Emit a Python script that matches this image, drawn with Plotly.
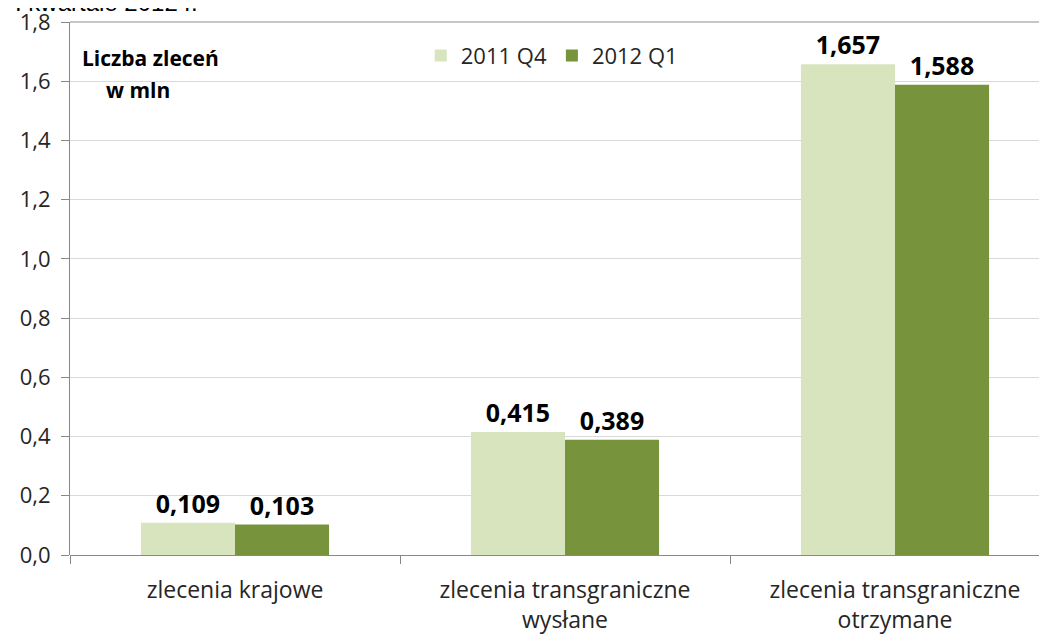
import plotly.graph_objects as go

categories = ["zlecenia krajowe", "zlecenia transgraniczne<br>wysłane", "zlecenia transgraniczne<br>otrzymane"]
series_names = ["2011 Q4", "2012 Q1"]
values_2011q4 = [0.109, 0.415, 1.657]
values_2012q1 = [0.103, 0.389, 1.588]
ytick_vals = [0, 0.2, 0.4, 0.6, 0.8, 1.0, 1.2, 1.4, 1.6, 1.8]
ytick_text = ["0,0", "0,2", "0,4", "0,6", "0,8", "1,0", "1,2", "1,4", "1,6", "1,8"]

colors = ["#d7e4bd", "#77933c"]
FONT = "Open Sans"
TXT = "#262626"

def fmt(v):
    return f"{v:.3f}".replace(".", ",")

xpos = list(range(len(categories)))
fig = go.Figure()
for name, vals, col in zip(series_names, [values_2011q4, values_2012q1], colors):
    fig.add_trace(go.Bar(
        x=xpos, y=vals, name=name, marker=dict(color=col, line=dict(width=0)),
        text=[fmt(v) for v in vals], textposition="outside", cliponaxis=False,
        textfont=dict(family=FONT, size=25, color="#000000", weight="bold"),
    ))

fig.update_layout(
    width=1047, height=634,
    margin=dict(l=62, r=8, t=14, b=87),
    paper_bgcolor="white", plot_bgcolor="white",
    barmode="group", bargap=0.43, bargroupgap=0,
    font=dict(family=FONT, color=TXT),
    showlegend=True,
    legend=dict(orientation="h", x=0.359, y=0.937, xanchor="left", yanchor="middle",
                font=dict(family=FONT, size=22, color=TXT),
                bgcolor="rgba(0,0,0,0)", itemwidth=30, traceorder="normal"),
    xaxis=dict(
        range=[-0.5, 2.4606], tickvals=xpos, ticktext=categories,
        ticks="", showgrid=False, zeroline=False, showline=False, automargin=False,
        ticklabelstandoff=19, ticklabeloverflow="allow",
        tickfont=dict(family=FONT, size=23, color=TXT),
        minor=dict(tickvals=[-0.5, 0.5, 1.5], ticks="outside", ticklen=8,
                   tickcolor="#888888", showgrid=False),
    ),
    yaxis=dict(
        range=[0, 1.8], tickvals=ytick_vals, ticktext=ytick_text, automargin=False,
        ticks="outside", ticklen=8, tickcolor="#888888", ticklabelstandoff=6,
        ticklabeloverflow="allow",
        showline=True, linecolor="#888888", linewidth=1,
        showgrid=True, gridcolor="#d9d9d9", gridwidth=1,
        zeroline=True, zerolinecolor="#888888", zerolinewidth=1,
        tickfont=dict(family=FONT, size=22, color=TXT),
    ),
    shapes=[dict(type="line", xref="paper", yref="paper", x0=0, x1=1, y0=1, y1=1,
                 line=dict(color="#b3b3b3", width=1.5), layer="below")],
    annotations=[
        dict(text="<b>Liczba zleceń</b>", xref="paper", yref="paper", x=0.010, y=0.932,
             xanchor="left", yanchor="middle", showarrow=False,
             font=dict(family=FONT, size=21, color="#000000")),
        dict(text="<b>w mln</b>", xref="paper", yref="paper", x=0.035, y=0.872,
             xanchor="left", yanchor="middle", showarrow=False,
             font=dict(family=FONT, size=21, color="#000000")),
        dict(text="I kwartale 2012 r.", xref="paper", yref="paper", x=0.133, y=1.0075,
             xanchor="right", yanchor="bottom", showarrow=False,
             font=dict(family="Liberation Sans", size=24, color="#000000")),
    ],
)

fig.write_html("out.html")
